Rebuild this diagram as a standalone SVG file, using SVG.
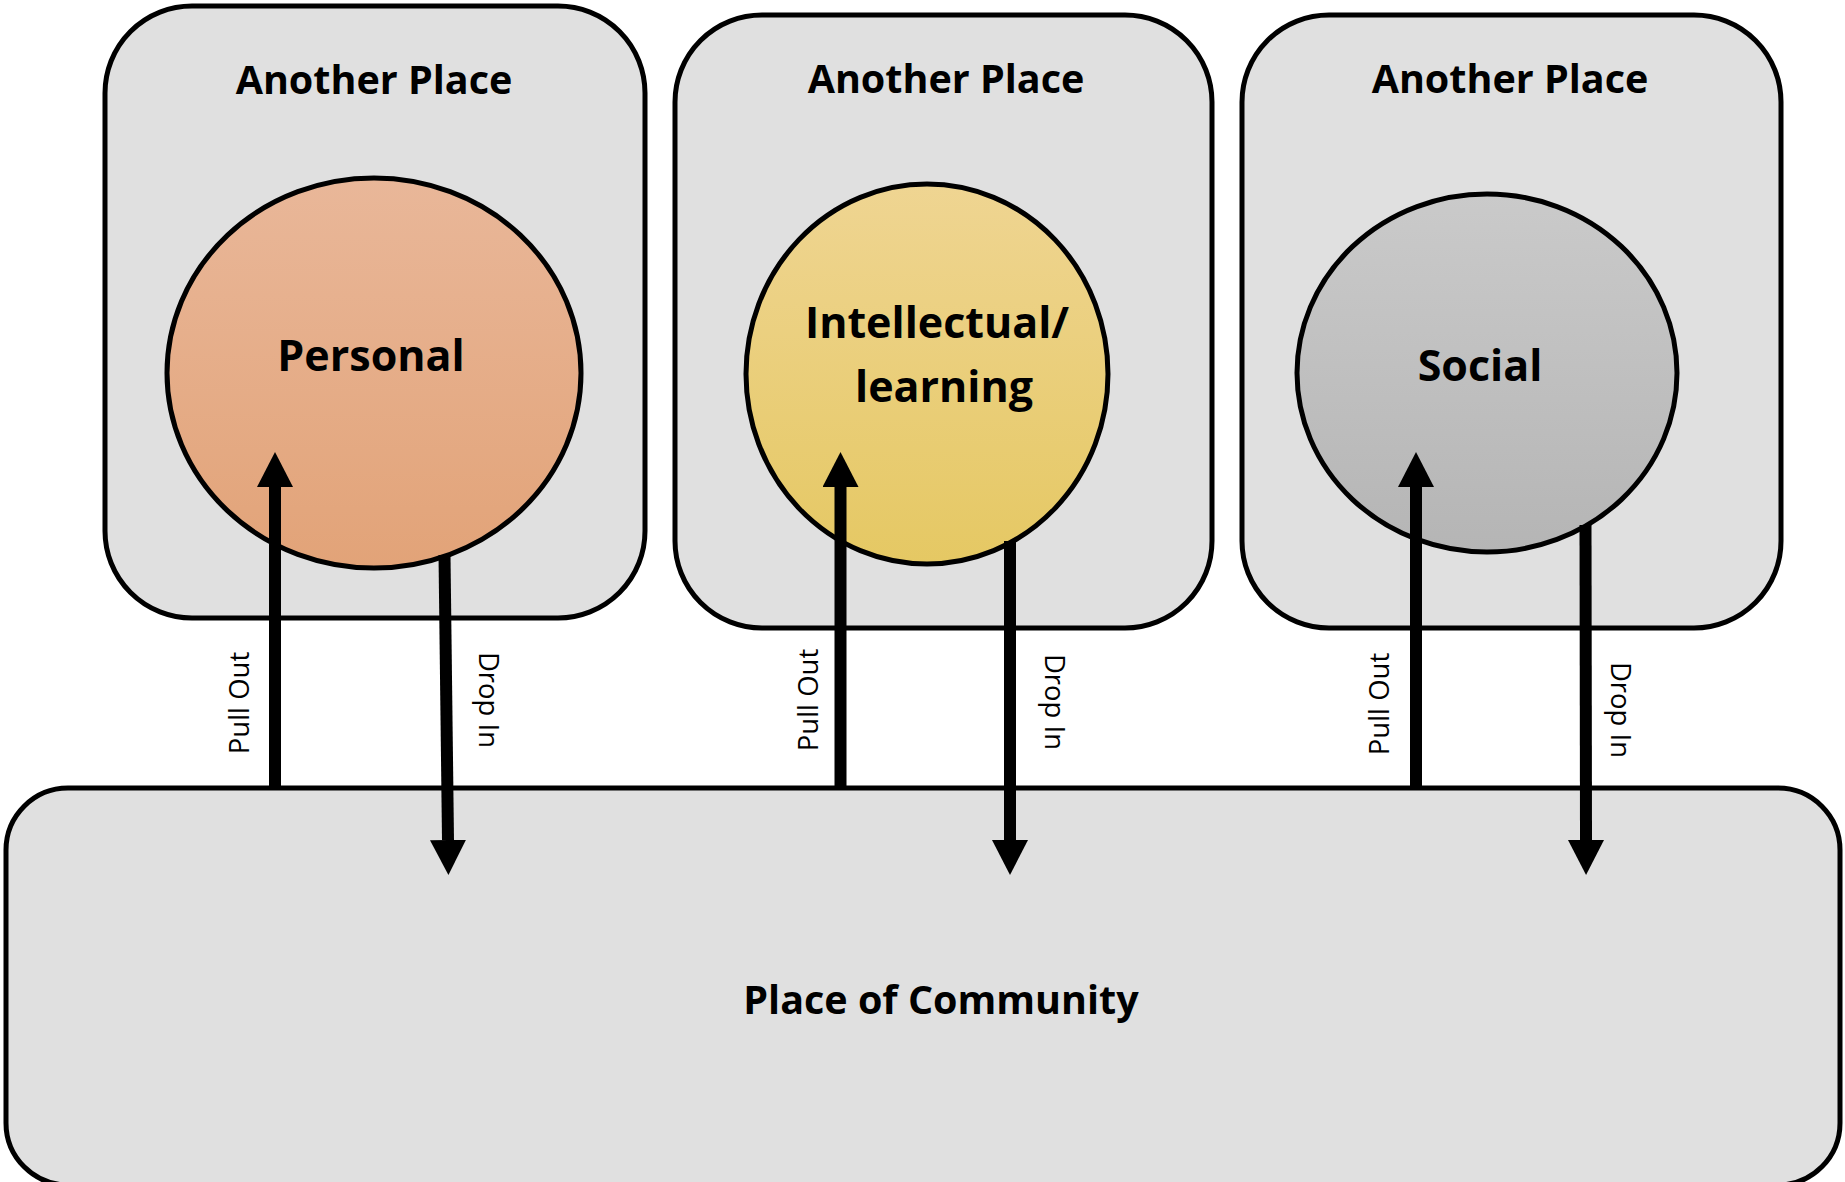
<svg xmlns="http://www.w3.org/2000/svg" width="1845" height="1182" viewBox="0 0 1845 1182">
<style>
.box{fill:#e0e0e0;stroke:#000;stroke-width:5}
.ell{stroke:#000;stroke-width:5}
.title{font-family:"Open Sans","Liberation Sans",sans-serif;font-weight:bold;font-size:39.5px;fill:#000;text-anchor:middle}
.big{font-family:"Open Sans","Liberation Sans",sans-serif;font-weight:bold;font-size:43px;fill:#000;text-anchor:middle}
.lbl{font-family:"Open Sans","Liberation Sans",sans-serif;font-size:27.5px;fill:#000;text-anchor:middle}
.arr{stroke:#000;stroke-width:12;fill:none;marker-end:url(#head)}
</style>
<defs>
<linearGradient id="gPersonal" x1="0" y1="0" x2="0" y2="1">
<stop offset="0" stop-color="#e9b799"/><stop offset="1" stop-color="#e2a378"/>
</linearGradient>
<linearGradient id="gIntel" x1="0" y1="0" x2="0" y2="1">
<stop offset="0" stop-color="#efd592"/><stop offset="1" stop-color="#e5c863"/>
</linearGradient>
<linearGradient id="gSocial" x1="0" y1="0" x2="0" y2="1">
<stop offset="0" stop-color="#cacaca"/><stop offset="1" stop-color="#b5b5b5"/>
</linearGradient>
<marker id="head" viewBox="0 0 35 36" markerWidth="35" markerHeight="36" refX="0" refY="18" orient="auto" markerUnits="userSpaceOnUse">
<path d="M0,0 L35,18 L0,36 z" fill="#000"/>
</marker>
</defs>

<g id="place-personal">
<rect class="box" x="105" y="6" width="540" height="612" rx="87" ry="87"/>
<text class="title" x="374" y="94">Another Place</text>
</g>
<g id="place-intellectual">
<rect class="box" x="675" y="15" width="537" height="613" rx="87" ry="87"/>
<text class="title" x="946" y="93">Another Place</text>
</g>
<g id="place-social">
<rect class="box" x="1242" y="15" width="539" height="613" rx="87" ry="87"/>
<text class="title" x="1510" y="93">Another Place</text>
</g>

<g id="personal">
<ellipse class="ell" cx="374" cy="373" rx="207" ry="195" fill="url(#gPersonal)"/>
<text class="big" x="371" y="371">Personal</text>
</g>
<g id="intellectual">
<ellipse class="ell" cx="927" cy="374" rx="181" ry="190" fill="url(#gIntel)"/>
<text class="big" x="937" y="338">Intellectual/</text>
<text class="big" x="944" y="402">learning</text>
</g>
<g id="social">
<ellipse class="ell" cx="1487" cy="373" rx="190" ry="179" fill="url(#gSocial)"/>
<text class="big" x="1480" y="381">Social</text>
</g>

<g id="community">
<rect class="box" x="6" y="788" width="1834" height="397" rx="62" ry="62"/>
<text class="title" x="941" y="1014">Place of Community</text>
</g>

<g id="connectors">
<line class="arr" x1="275" y1="788" x2="275" y2="487"/>
<line class="arr" x1="444.5" y1="555" x2="448" y2="840"/>
<line class="arr" x1="840.5" y1="788" x2="840.5" y2="487"/>
<line class="arr" x1="1010" y1="541" x2="1010" y2="840"/>
<line class="arr" x1="1416" y1="788" x2="1416" y2="487"/>
<line class="arr" x1="1585.5" y1="525" x2="1586" y2="840"/>
<text class="lbl" transform="translate(249,703) rotate(-90)">Pull Out</text>
<text class="lbl" transform="translate(479,700) rotate(90)">Drop In</text>
<text class="lbl" transform="translate(818,700) rotate(-90)">Pull Out</text>
<text class="lbl" transform="translate(1045,702) rotate(90)">Drop In</text>
<text class="lbl" transform="translate(1389,704) rotate(-90)">Pull Out</text>
<text class="lbl" transform="translate(1611,710) rotate(90)">Drop In</text>
</g>
</svg>
